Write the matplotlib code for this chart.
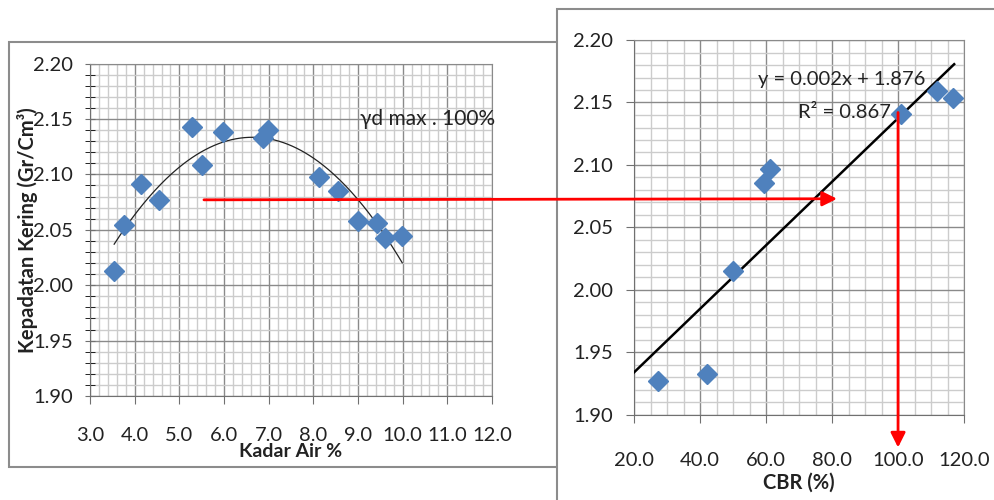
import numpy as np
import matplotlib
matplotlib.use("Agg")
import matplotlib.pyplot as plt
from matplotlib.patches import Rectangle, ConnectionPatch
from matplotlib.ticker import MultipleLocator, FormatStrFormatter

plt.rcParams['font.family'] = ['Lato', 'DejaVu Sans']

# kiri: kadar air vs kepadatan kering
kadar_air = [3.54, 3.75, 4.13, 4.55, 5.29, 5.50, 5.98, 6.88, 6.99, 8.13, 8.55, 9.01, 9.42, 9.60, 9.99]
kepadatan = [2.013, 2.054, 2.091, 2.077, 2.143, 2.108, 2.138, 2.133, 2.140, 2.098, 2.085, 2.058, 2.056, 2.043, 2.044]

# kanan: CBR vs kepadatan kering
cbr = [27.2, 42.0, 49.9, 59.3, 61.2, 100.8, 111.7, 116.8]
kepadatan_cbr = [1.927, 1.933, 2.015, 2.086, 2.097, 2.141, 2.159, 2.154]

# garis bantu merah
gd_target = 2.077
gd_arrow_end_x = [5.55, 81.5]
cbr_target = 100.0
cbr_top, cbr_bottom = 2.142, 1.874

blue = '#4F81BD'
major_c = '#8A8A8A'
minor_c = '#CCCCCC'

fig = plt.figure(figsize=(9.95, 5.0), dpi=100)

# chart frames (excel style)
fig.add_artist(Rectangle((0.009, 0.066), 0.57, 0.85, transform=fig.transFigure,
                         fc='white', ec='#8C8C8C', lw=1.5, zorder=-2))
fig.add_artist(Rectangle((0.56, -0.02), 0.46, 1.002, transform=fig.transFigure,
                         fc='white', ec='#8C8C8C', lw=1.5, zorder=-1))

ax1 = fig.add_axes([0.0905, 0.208, 0.404, 0.665])
ax2 = fig.add_axes([0.6372, 0.17, 0.3317, 0.75])


def style(ax, xmaj, xmin, ymaj, ymin, xfmt, yfmt):
    ax.xaxis.set_major_locator(MultipleLocator(xmaj))
    ax.xaxis.set_minor_locator(MultipleLocator(xmin))
    ax.yaxis.set_major_locator(MultipleLocator(ymaj))
    ax.yaxis.set_minor_locator(MultipleLocator(ymin))
    ax.xaxis.set_major_formatter(FormatStrFormatter(xfmt))
    ax.yaxis.set_major_formatter(FormatStrFormatter(yfmt))
    ax.grid(which='major', color=major_c, lw=1.0, zorder=0)
    ax.grid(which='minor', color=minor_c, lw=1.0, zorder=0)
    ax.set_axisbelow(True)
    for s in ax.spines.values():
        s.set_color(major_c)
    ax.spines['left'].set_color('#707070')
    ax.spines['bottom'].set_color('#707070')
    ax.tick_params(colors='#707070', labelcolor='#222222', labelsize=14.5)


# ---- left chart ----
style(ax1, 1.0, 0.2, 0.05, 0.01, '%.1f', '%.2f')
ax1.set_xlim(3.0, 12.0)
ax1.set_ylim(1.90, 2.20)
ax1.tick_params(axis='y', which='both', direction='inout', length=7, pad=9)
ax1.tick_params(axis='x', which='major', direction='out', length=6, pad=16)
ax1.tick_params(axis='x', which='minor', length=0)

coef = np.polyfit(kadar_air, kepadatan, 2)
xs = np.linspace(min(kadar_air), max(kadar_air), 200)
ax1.plot(xs, np.polyval(coef, xs), color='#222222', lw=0.9, zorder=3)
ax1.plot(kadar_air, kepadatan, 'D', color=blue, ms=10.5, mec=blue, zorder=4)

ax1.text(9.04, 2.150, 'γd max . 100%', fontsize=15, va='center', color='#222222')
ax1.set_xlabel('Kadar Air %', fontsize=14, fontweight='bold', color='#222222')
ax1.xaxis.set_label_coords(0.5, -0.141)
ax1.set_ylabel('Kepadatan Kering (Gr/Cm³)', fontsize=14.5, fontweight='bold', color='#222222')
ax1.yaxis.set_label_coords(-0.13, 0.5)

# ---- right chart ----
style(ax2, 20.0, 5.0, 0.05, 0.01, '%.1f', '%.2f')
ax2.set_xlim(20.0, 120.0)
ax2.set_ylim(1.90, 2.20)
ax2.tick_params(axis='y', which='major', direction='out', length=6, pad=9)
ax2.tick_params(axis='x', which='major', direction='out', length=6, pad=21)
ax2.tick_params(which='minor', length=0)

lin = np.polyfit(cbr, kepadatan_cbr, 1)
xl = np.array([20.0, 117.0])
ax2.plot(xl, np.polyval(lin, xl), color='black', lw=1.8, zorder=3)
ax2.plot(cbr, kepadatan_cbr, 'D', color=blue, ms=10.5, mec=blue, zorder=4)

ax2.text(57.6, 2.168, 'y = 0.002x + 1.876', fontsize=14.5, va='center', color='#222222')
ax2.text(69.7, 2.142, 'R² = 0.867', fontsize=14.5, va='center', color='#222222')
ax2.set_xlabel('CBR (%)', fontsize=14.5, fontweight='bold', color='#222222')
ax2.xaxis.set_label_coords(0.5, -0.155)

# red guide arrows
con = ConnectionPatch(xyA=(gd_arrow_end_x[0], gd_target), coordsA=ax1.transData,
                      xyB=(gd_arrow_end_x[1], gd_target - 0.004), coordsB=ax2.transData,
                      arrowstyle='-|>', color='red', lw=2, mutation_scale=22, zorder=10)
fig.add_artist(con)
ax2.annotate('', xy=(cbr_target, cbr_bottom), xytext=(cbr_target, cbr_top),
             arrowprops=dict(arrowstyle='-|>', color='red', lw=2, mutation_scale=22,
                             shrinkA=0, shrinkB=0),
             annotation_clip=False, zorder=10)

fig.savefig('out.png', dpi=100)
